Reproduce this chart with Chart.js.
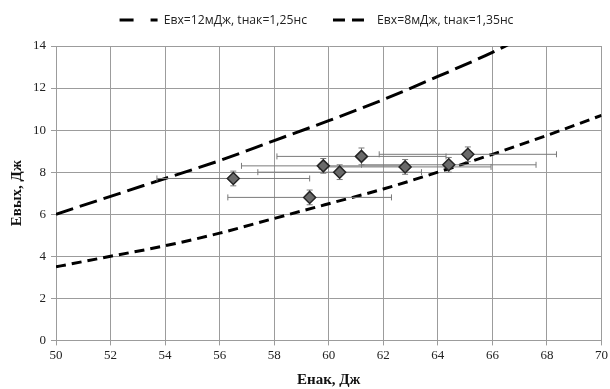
<!DOCTYPE html>
<html>
<head>
<meta charset="utf-8">
<script src="https://cdn.jsdelivr.net/npm/chart.js@4/dist/chart.umd.min.js"></script>
<style>
  html, body { margin: 0; padding: 0; background: #fff; }
  #wrap { width: 610px; height: 389px; }
</style>
</head>
<body>
<div id="wrap"><canvas id="energyChart"></canvas></div>
<script>
// axis ticks
const xTicks = [50, 52, 54, 56, 58, 60, 62, 64, 66, 68, 70];
const yTicks = [0, 2, 4, 6, 8, 10, 12, 14];

// calculated curves
const curve12X = [50, 52, 54, 56, 58, 60, 62, 64, 66, 68];
const curve12Y = [6.0, 6.85, 7.7, 8.55, 9.5, 10.45, 11.45, 12.55, 13.7, 15.0];
const curve8X = [50, 52, 54, 56, 58, 60, 62, 64, 66, 68, 70];
const curve8Y = [3.5, 4.0, 4.5, 5.1, 5.8, 6.5, 7.2, 8.0, 8.85, 9.75, 10.7];

// measurements with errors
const measX = [56.5, 59.3, 59.8, 60.4, 61.2, 62.8, 64.4, 65.1];
const measY = [7.7, 6.8, 8.3, 8.0, 8.75, 8.25, 8.35, 8.85];
const errX = [2.8, 3.0, 3.0, 3.0, 3.1, 3.15, 3.2, 3.25];
const errY = [0.35, 0.35, 0.35, 0.35, 0.4, 0.35, 0.35, 0.35];

const serif = "'Liberation Serif', 'Times New Roman', serif";
const sans = "'Open Sans', 'Liberation Sans', Arial, sans-serif";

const toPoints = (xs, ys) => xs.map((x, i) => ({ x: x, y: ys[i] }));

// error bars drawn under the diamonds
const errorBars = {
    id: 'errorBars',
    beforeDatasetDraw(chart, args) {
        if (args.index !== 0) return;
        const { ctx, scales: { x, y } } = chart;
        const cap = 3;
        ctx.save();
        ctx.strokeStyle = '#7a7a7a';
        ctx.lineWidth = 1;
        measX.forEach((mx, i) => {
            const px = x.getPixelForValue(mx);
            const py = y.getPixelForValue(measY[i]);
            const x0 = x.getPixelForValue(mx - errX[i]);
            const x1 = x.getPixelForValue(mx + errX[i]);
            const y0 = y.getPixelForValue(measY[i] - errY[i]);
            const y1 = y.getPixelForValue(measY[i] + errY[i]);
            ctx.beginPath();
            ctx.moveTo(x0, py); ctx.lineTo(x1, py);
            ctx.moveTo(x0, py - cap); ctx.lineTo(x0, py + cap);
            ctx.moveTo(x1, py - cap); ctx.lineTo(x1, py + cap);
            ctx.moveTo(px, y0); ctx.lineTo(px, y1);
            ctx.moveTo(px - cap, y0); ctx.lineTo(px + cap, y0);
            ctx.moveTo(px - cap, y1); ctx.lineTo(px + cap, y1);
            ctx.stroke();
        });
        ctx.restore();
    }
};

// fixed legend height, labels drawn a bit higher and to the right
const legendBox = {
    id: 'legendBox',
    afterInit(chart) {
        const legend = chart.legend;
        const fit = legend.fit;
        const draw = legend.draw;
        legend.fit = function () {
            fit.call(this);
            this.height = 46;
        };
        legend.draw = function () {
            this.ctx.save();
            this.ctx.translate(10, -12);
            draw.call(this);
            this.ctx.restore();
        };
    }
};

const ctx = document.getElementById('energyChart').getContext('2d');
const energyChart = new Chart(ctx, {
    type: 'scatter',
    data: {
        datasets: [
            {
                label: 'meas',
                data: toPoints(measX, measY),
                pointStyle: 'rectRot',
                pointRadius: 6,
                pointHoverRadius: 6,
                backgroundColor: '#6a6a6a',
                borderColor: '#252525',
                borderWidth: 1.5,
                showLine: false
            },
            {
                label: 'Евх=12мДж, tнак=1,25нс',
                data: toPoints(curve12X, curve12Y),
                showLine: true,
                borderColor: '#000',
                backgroundColor: '#000',
                borderWidth: 3,
                borderDash: [18, 7],
                pointRadius: 0,
                cubicInterpolationMode: 'monotone'
            },
            {
                label: 'Евх=8мДж, tнак=1,35нс',
                data: toPoints(curve8X, curve8Y),
                showLine: true,
                borderColor: '#000',
                backgroundColor: '#000',
                borderWidth: 3,
                borderDash: [10, 6],
                pointRadius: 0,
                cubicInterpolationMode: 'monotone'
            }
        ]
    },
    options: {
        responsive: true,
        maintainAspectRatio: false,
        animation: false,
        events: [],
        layout: { padding: { left: 8, right: 5, top: 0, bottom: 0 } },
        plugins: {
            tooltip: { enabled: false },
            legend: {
                position: 'top',
                labels: {
                    filter: item => item.datasetIndex !== 0,
                    generateLabels: chart => {
                        const items = Chart.defaults.plugins.legend.labels.generateLabels(chart);
                        items.forEach(item => {
                            const ds = chart.data.datasets[item.datasetIndex];
                            item.lineDash = item.datasetIndex === 1 ? [14, 17] : [12, 7];
                            item.lineWidth = 3;
                            item.strokeStyle = ds.borderColor;
                        });
                        return items;
                    },
                    usePointStyle: true,
                    pointStyle: 'line',
                    pointStyleWidth: 38,
                    boxHeight: 12,
                    padding: 26,
                    color: '#222',
                    font: { family: sans, size: 12.2 }
                }
            }
        },
        scales: {
            x: {
                type: 'linear',
                min: 50,
                max: 70,
                afterBuildTicks: axis => { axis.ticks = xTicks.map(v => ({ value: v })); },
                ticks: { color: '#222', font: { family: serif, size: 13 }, padding: 2 },
                grid: { color: '#9c9c9c', lineWidth: 1, tickLength: 5 },
                border: { color: '#9c9c9c' },
                title: {
                    display: true,
                    text: 'Енак, Дж',
                    color: '#111',
                    font: { family: serif, size: 15, weight: 'bold' },
                    padding: { top: 6, bottom: 0 }
                }
            },
            y: {
                type: 'linear',
                min: 0,
                max: 14,
                afterBuildTicks: axis => { axis.ticks = yTicks.map(v => ({ value: v })); },
                ticks: { color: '#222', font: { family: serif, size: 13 }, padding: 5 },
                grid: { color: '#9c9c9c', lineWidth: 1, tickLength: 5 },
                border: { color: '#9c9c9c' },
                title: {
                    display: true,
                    text: 'Евых, Дж',
                    color: '#111',
                    font: { family: serif, size: 15, weight: 'bold' },
                    padding: { top: 0, bottom: 2 }
                }
            }
        }
    },
    plugins: [errorBars, legendBox]
});
</script>
</body>
</html>
